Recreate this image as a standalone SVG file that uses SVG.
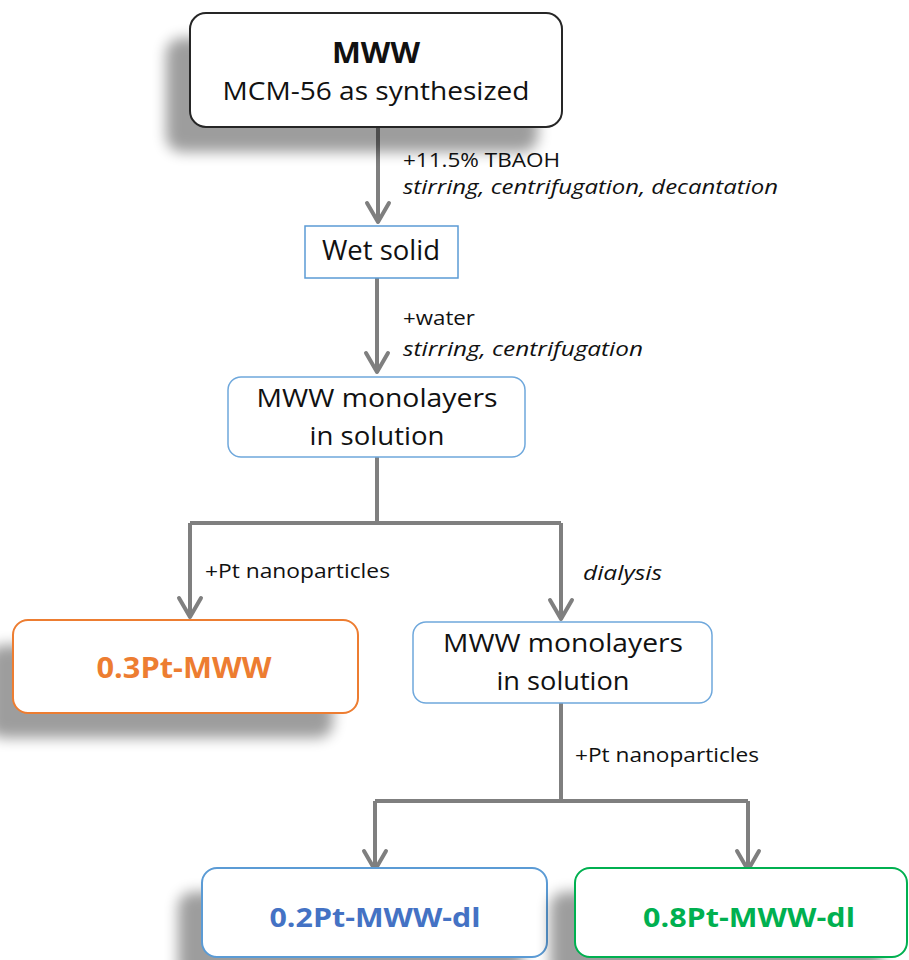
<svg xmlns="http://www.w3.org/2000/svg" width="909" height="960" viewBox="0 0 909 960">
<defs>
  <filter id="shadow" x="-30%" y="-50%" width="160%" height="200%">
    <feGaussianBlur stdDeviation="7"/>
  </filter>
  <marker id="arrow" viewBox="-24 -14 28 28" refX="0" refY="0" markerWidth="28" markerHeight="28" markerUnits="userSpaceOnUse" orient="auto">
    <path d="M -19,-11 L 0,0 L -19,11" fill="none" stroke="#7f7f7f" stroke-width="4" stroke-linejoin="round" stroke-linecap="round"/>
  </marker>
  <style>
    .t { font-family: "Open Sans", "Liberation Sans", sans-serif; fill: #111; }
    .b { font-weight: bold; }
    .i { font-style: italic; }
    .lbl { font-size: 20px; }
    .shd { fill: #000; opacity: 0.38; filter: url(#shadow); }
    .box { fill: #fff; }
    .conn { fill: none; stroke: #7f7f7f; stroke-width: 4; }
  </style>
</defs>
<rect width="909" height="960" fill="#fff"/>

<g id="connectors">
  <path class="conn" d="M378,127 V222" marker-end="url(#arrow)"/>
  <path class="conn" d="M377,278 V372" marker-end="url(#arrow)"/>
  <path class="conn" d="M377,457 V523 M190,523 H561"/>
  <path class="conn" d="M190,523 V617" marker-end="url(#arrow)"/>
  <path class="conn" d="M561,523 V619" marker-end="url(#arrow)"/>
  <path class="conn" d="M561,703 V801 M375,801 H748"/>
  <path class="conn" d="M375,801 V870" marker-end="url(#arrow)"/>
  <path class="conn" d="M748,801 V870" marker-end="url(#arrow)"/>
  <text class="t lbl" x="403" y="167" textLength="157" lengthAdjust="spacingAndGlyphs">+11.5% TBAOH</text>
  <text class="t lbl i" x="403" y="194" textLength="375" lengthAdjust="spacingAndGlyphs">stirring, centrifugation, decantation</text>
  <text class="t lbl" x="403" y="325" textLength="72" lengthAdjust="spacingAndGlyphs">+water</text>
  <text class="t lbl i" x="403" y="356" textLength="240" lengthAdjust="spacingAndGlyphs">stirring, centrifugation</text>
  <text class="t lbl" x="205" y="578" textLength="185" lengthAdjust="spacingAndGlyphs">+Pt nanoparticles</text>
  <text class="t lbl i" x="583" y="580" textLength="79" lengthAdjust="spacingAndGlyphs">dialysis</text>
  <text class="t lbl" x="575" y="762" textLength="184" lengthAdjust="spacingAndGlyphs">+Pt nanoparticles</text>
</g>

<g id="node-mww">
  <rect class="shd" x="166" y="38" width="372" height="114" rx="16"/>
  <rect class="box" x="190" y="13" width="372" height="114" rx="16" stroke="#262626" stroke-width="2"/>
  <text class="t b" x="376" y="63" font-size="28" text-anchor="middle" textLength="88" lengthAdjust="spacingAndGlyphs">MWW</text>
  <text class="t" x="376" y="100" font-size="25.5" text-anchor="middle" textLength="307" lengthAdjust="spacingAndGlyphs">MCM-56 as synthesized</text>
</g>

<g id="node-wet">
  <rect class="box" x="305" y="226" width="153" height="52" stroke="#5b9bd5" stroke-width="1.5"/>
  <text class="t" x="381" y="260" font-size="27" text-anchor="middle" textLength="118" lengthAdjust="spacingAndGlyphs">Wet solid</text>
</g>

<g id="node-mono1">
  <rect class="box" x="228" y="377" width="297" height="80" rx="13" stroke="#6fa8dc" stroke-width="1.5"/>
  <text class="t" x="377" y="407" font-size="26" text-anchor="middle" textLength="241" lengthAdjust="spacingAndGlyphs">MWW monolayers</text>
  <text class="t" x="377" y="445" font-size="26" text-anchor="middle" textLength="135" lengthAdjust="spacingAndGlyphs">in solution</text>
</g>

<g id="node-03pt">
  <rect class="shd" x="-12" y="645" width="345" height="93" rx="15"/>
  <rect class="box" x="13" y="620" width="345" height="93" rx="15" stroke="#ed7d31" stroke-width="2"/>
  <text class="t b" x="184" y="678" font-size="28" text-anchor="middle" style="fill:#ed7d31" textLength="175" lengthAdjust="spacingAndGlyphs">0.3Pt-MWW</text>
</g>

<g id="node-mono2">
  <rect class="box" x="413" y="622" width="299" height="81" rx="13" stroke="#6fa8dc" stroke-width="1.5"/>
  <text class="t" x="563" y="652" font-size="26" text-anchor="middle" textLength="240" lengthAdjust="spacingAndGlyphs">MWW monolayers</text>
  <text class="t" x="563" y="690" font-size="26" text-anchor="middle" textLength="133" lengthAdjust="spacingAndGlyphs">in solution</text>
</g>

<g id="node-02pt">
  <rect class="shd" x="178" y="892" width="345" height="90" rx="15"/>
  <rect class="box" x="202" y="868" width="345" height="89" rx="15" stroke="#5b9bd5" stroke-width="2"/>
  <text class="t b" x="375" y="927" font-size="27" text-anchor="middle" style="fill:#4472c4" textLength="211" lengthAdjust="spacingAndGlyphs">0.2Pt-MWW-dl</text>
</g>

<g id="node-08pt">
  <rect class="shd" x="550" y="892" width="332" height="90" rx="15"/>
  <rect class="box" x="575" y="868" width="332" height="89" rx="15" stroke="#00b050" stroke-width="2"/>
  <text class="t b" x="749" y="927" font-size="27" text-anchor="middle" style="fill:#00b050" textLength="212" lengthAdjust="spacingAndGlyphs">0.8Pt-MWW-dl</text>
</g>
</svg>
